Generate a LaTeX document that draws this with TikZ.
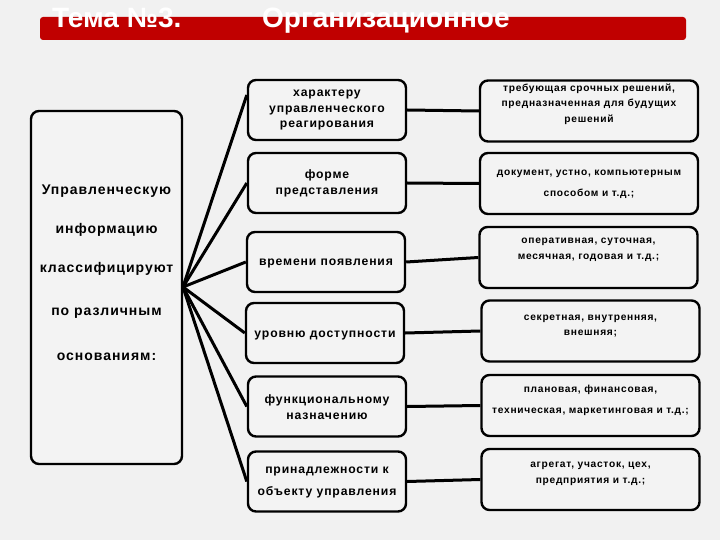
\documentclass[tikz,border=0pt]{standalone}
\usepackage{fontspec}
\setmainfont{Liberation Sans}
\newfontfamily\spaced[LetterSpace=7]{Liberation Sans}
\definecolor{bg}{HTML}{F1F1F1}
\definecolor{boxfill}{HTML}{F3F3F3}
\definecolor{barred}{HTML}{C00000}
\begin{document}
\begin{tikzpicture}[x=1pt,y=-1pt,
  box/.style={draw=black, line width=2.4pt, rounded corners=8pt, fill=boxfill, inner sep=0pt},
  lbox/.style={box, minimum width=151pt, minimum height=353pt},
  mbox/.style={box, minimum width=158pt, minimum height=60pt},
  rbox/.style={box, minimum width=218pt, minimum height=61pt},
  ltxt/.style={font=\spaced\bfseries\fontsize{14}{16}\selectfont, align=center},
  mtxt/.style={font=\spaced\bfseries\fontsize{12.2}{15.5}\selectfont, align=center},
  rtxt/.style={font=\spaced\bfseries\fontsize{10.2}{15.5}\selectfont, align=center},
  conn/.style={line width=3pt, black}]
\useasboundingbox (0,0) rectangle (720,540);
\fill[bg] (0,0) rectangle (720,540);
% header bar
\fill[barred, rounded corners=3pt] (40,17) rectangle (686,40);
\begin{scope}
\clip (0,7) rectangle (720,40);
\node[anchor=base west, text=white, font=\bfseries\fontsize{28}{30}\selectfont, inner sep=0pt] (t1) at (52,28) {Тема №3.};
\node[anchor=base west, text=white, font=\bfseries\fontsize{28}{30}\selectfont, inner sep=0pt] (t2) at (262,28) {Организационное};
\end{scope}
% left box
\node[lbox] (L) at (106.5,287.5) {};
\node[ltxt] (L1) at (106.5,191) {Управленческую};
\node[ltxt] (L2) at (106.5,230) {информацию};
\node[ltxt] (L3) at (106.5,269) {классифицируют};
\node[ltxt] (L4) at (106.5,313) {по различным};
\node[ltxt] (L5) at (106.5,357) {основаниям:};
\coordinate (F) at (183,287);
% middle boxes
\node[mbox] (m1) at (327,110) {};
\node[mtxt] at (327,110) {характеру\\управленческого\\реагирования};
\node[mbox] (m2) at (327,183) {};
\node[mtxt] at (327,183.5) {форме\\представления};
\node[mbox] (m3) at (326,262) {};
\node[mtxt] at (326,263) {времени появления};
\node[mbox] (m4) at (325,333) {};
\node[mtxt] at (325,335) {уровню доступности};
\node[mbox] (m5) at (327,406.5) {};
\node[mtxt] at (327,407) {функциональному\\назначению};
\node[mbox] (m6) at (327,481.5) {};
\node[mtxt, font=\spaced\bfseries\fontsize{12.2}{22}\selectfont] at (327,482) {принадлежности к\\объекту управления};
% right boxes
\node[rbox] (r1) at (589,111) {};
\node[rtxt] at (589,104) {требующая срочных решений,\\предназначенная для будущих\\решений};
\node[rbox] (r2) at (589,183.5) {};
\node[rtxt, font=\spaced\bfseries\fontsize{10.2}{21}\selectfont] at (589,184.5) {документ, устно, компьютерным\\способом и т.д.;};
\node[rbox] (r3) at (588.5,257.5) {};
\node[rtxt] at (588.5,250) {оперативная, суточная,\\месячная, годовая и т.д.;};
\node[rbox] (r4) at (590.5,331) {};
\node[rtxt] at (590.5,326) {секретная, внутренняя,\\внешняя;};
\node[rbox] (r5) at (590.5,405.5) {};
\node[rtxt, font=\spaced\bfseries\fontsize{10.2}{21}\selectfont] at (590.5,400) {плановая, финансовая,\\техническая, маркетинговая и т.д.;};
\node[rbox] (r6) at (590.5,479.5) {};
\node[rtxt] at (590.5,474) {агрегат, участок, цех,\\предприятия и т.д.;};
% fan connectors
\draw[conn] (F) -- ([yshift=15pt]m1.west);
\draw[conn] (F) -- (m2.west);
\draw[conn] (F) -- (m3.west);
\draw[conn] (F) -- (m4.west);
\draw[conn] (F) -- (m5.west);
\draw[conn] (F) -- (m6.west);
% right connectors
\draw[conn] (m1.east) -- (r1.west);
\draw[conn] (m2.east) -- (r2.west);
\draw[conn] (m3.east) -- (r3.west);
\draw[conn] (m4.east) -- (r4.west);
\draw[conn] (m5.east) -- (r5.west);
\draw[conn] (m6.east) -- (r6.west);
\end{tikzpicture}
\end{document}
